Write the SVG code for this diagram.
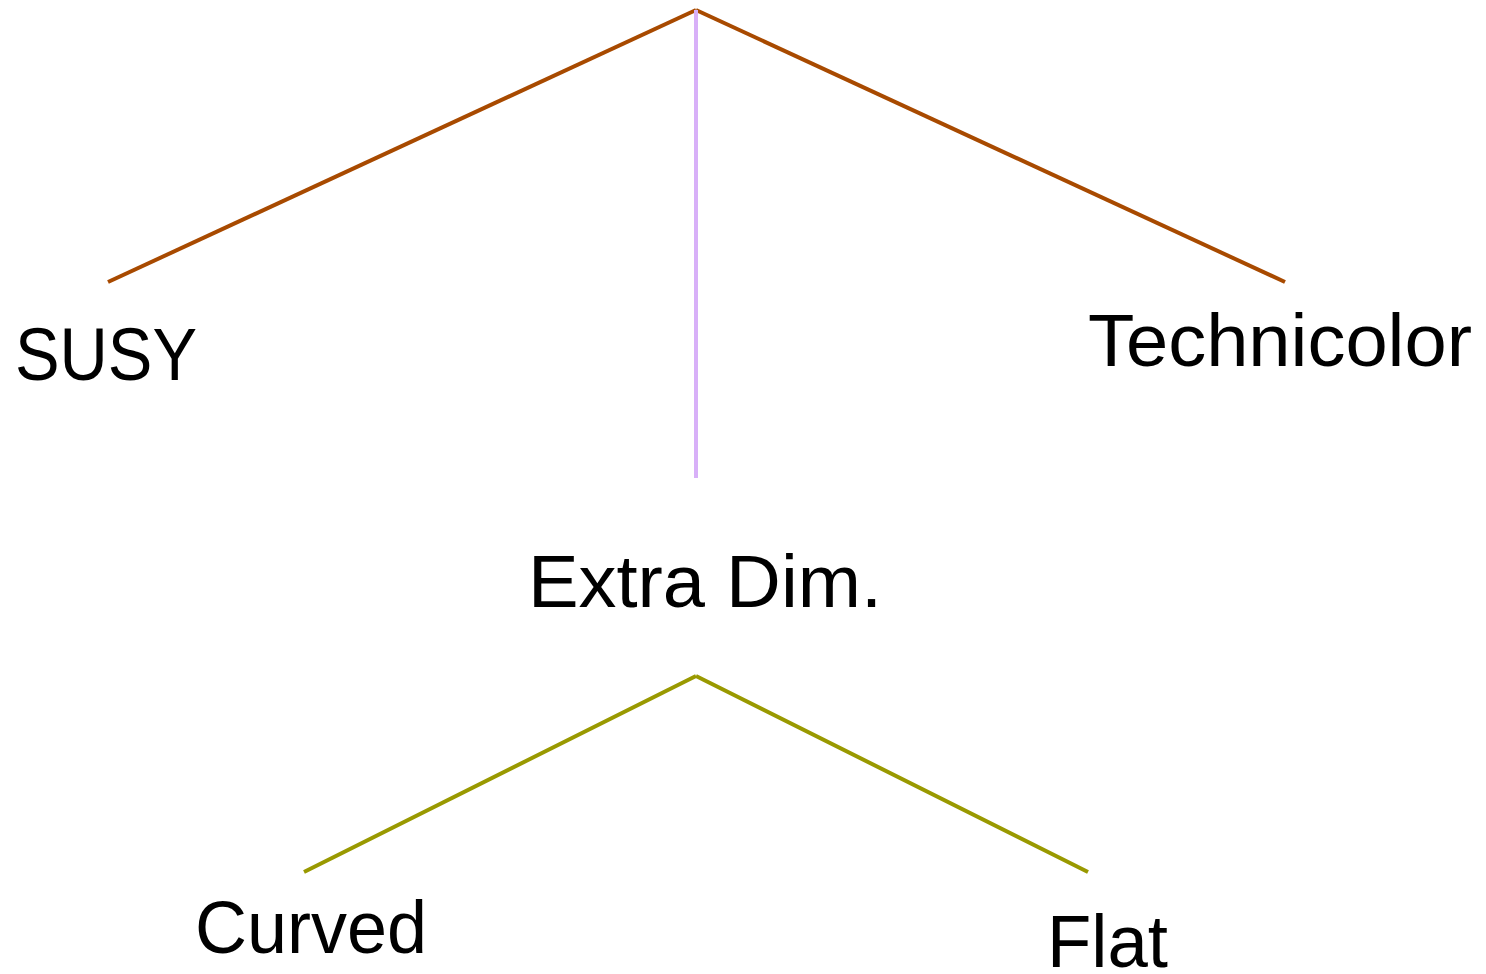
<svg xmlns="http://www.w3.org/2000/svg" width="1486" height="974" viewBox="0 0 1486 974">
<style>
.lbl{font-family:"Liberation Sans","DejaVu Sans",sans-serif;font-size:74px;fill:#000}
.e{fill:none;stroke-width:4;stroke-linecap:butt}
.br{stroke:#A84A00}
.lv{stroke:#D8B0F8}
.ol{stroke:#999900}
</style>
<rect width="1486" height="974" fill="#fff"/>
<g id="connectors">
<line class="e br" x1="696" y1="10" x2="108" y2="282"/>
<line class="e br" x1="696" y1="10" x2="1285" y2="282"/>
<line class="e lv" x1="696" y1="10" x2="696" y2="478"/>
<line class="e ol" x1="696" y1="676" x2="304" y2="872"/>
<line class="e ol" x1="696" y1="676" x2="1088" y2="872"/>
</g>
<g id="susy"><text class="lbl" x="15" y="380" textLength="182" lengthAdjust="spacingAndGlyphs">SUSY</text></g>
<g id="technicolor"><text class="lbl" x="1088" y="366" textLength="384" lengthAdjust="spacingAndGlyphs">Technicolor</text></g>
<g id="extradim"><text class="lbl" x="528" y="607" textLength="354" lengthAdjust="spacingAndGlyphs">Extra Dim.</text></g>
<g id="curved"><text class="lbl" x="195" y="953" textLength="232" lengthAdjust="spacingAndGlyphs">Curved</text></g>
<g id="flat"><text class="lbl" x="1047" y="967" textLength="121" lengthAdjust="spacingAndGlyphs">Flat</text></g>
</svg>
